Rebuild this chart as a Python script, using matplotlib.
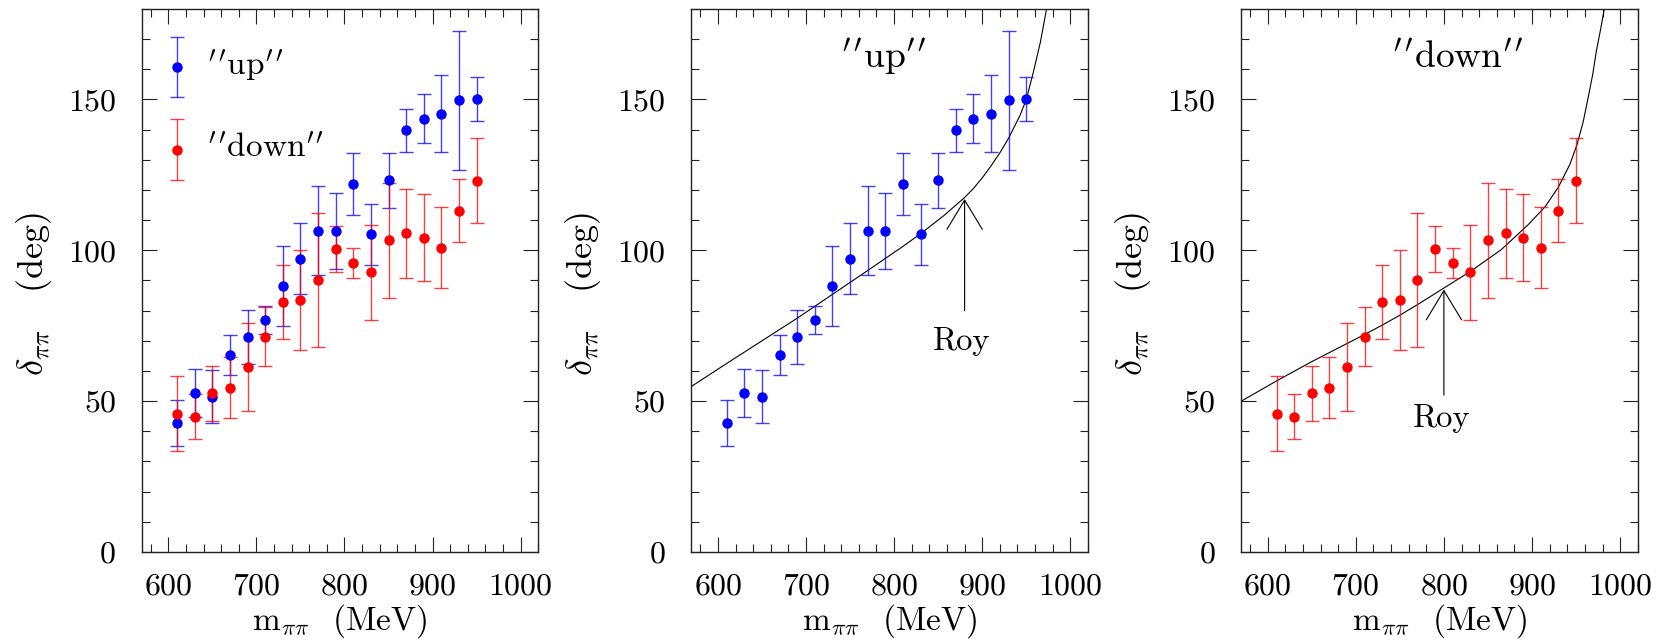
"""
pi-pi phase shift delta(m) for the "up" and "down" solutions, with Roy curves.
"""

import matplotlib
matplotlib.use("Agg")
import matplotlib.pyplot as plt
from matplotlib.container import ErrorbarContainer
from matplotlib.legend_handler import HandlerErrorbar
from matplotlib.ticker import MultipleLocator

# --- data ---------------------------------------------------------------
m_pipi = [610, 630, 650, 670, 690, 710, 730, 750, 770, 790,
          810, 830, 850, 870, 890, 910, 930, 950]

delta_up = [42.8, 52.7, 51.5, 65.3, 71.3, 77.0, 88.2, 97.2, 106.5, 106.5,
            122.0, 105.4, 123.2, 139.8, 143.6, 145.3, 149.7, 150.2]
err_up = [7.5, 7.9, 8.7, 6.6, 9.0, 4.6, 13.2, 11.8, 14.8, 12.6,
          10.4, 10.1, 9.1, 7.1, 8.1, 12.7, 23.0, 7.4]

delta_down = [45.9, 44.8, 52.6, 54.5, 61.2, 71.4, 82.9, 83.6, 90.2, 100.5,
              95.9, 92.7, 103.3, 105.6, 104.2, 100.9, 113.2, 123.1]
err_down = [12.3, 7.5, 9.2, 10.0, 14.6, 9.8, 12.3, 16.5, 22.3, 7.7,
            5.0, 15.8, 19.0, 14.8, 14.4, 13.5, 10.6, 14.0]

# Roy-equation solutions (one for each panel)
roy_up_m = [570, 610, 650, 690, 730, 770, 810, 830, 856, 880,
            890, 900, 910, 920, 930, 943, 950, 958, 966, 973]
roy_up_delta = [54.9, 62.5, 70.0, 77.5, 85.4, 93.3, 101.3, 105.5, 111.4, 117.5,
                120.5, 124.0, 128.0, 132.3, 137.2, 144.8, 150.0, 159.0, 169.0, 180.0]

roy_down_m = [570, 610, 650, 690, 710, 730, 750, 770, 800, 830,
              865, 896, 915, 930, 943, 951, 958, 964, 969, 973, 978, 982]
roy_down_delta = [50.0, 56.7, 63.1, 69.1, 72.1, 75.2, 78.5, 82.0, 87.5, 93.0,
                  100.2, 108.6, 114.5, 121.0, 128.5, 135.0, 142.5, 151.0, 158.5,
                  166.0, 173.5, 180.0]

# arrow annotations: (m, tail delta, tip delta, text delta)
roy_arrow_up = (880, 80.0, 117.0, 66.8)
roy_arrow_down = (800, 52.0, 87.0, 41.4)

QUOTE = r"$^{\prime\,\prime}$"
UP_LABEL = QUOTE + "up" + QUOTE
DOWN_LABEL = QUOTE + "down" + QUOTE

BLUE = "#0000ff"
RED = "#ff0000"
FS = 23

plt.rcParams["font.family"] = "cmr10"
plt.rcParams["mathtext.fontset"] = "cm"
plt.rcParams["axes.formatter.use_mathtext"] = True
plt.rcParams["font.size"] = FS


def draw_points(ax, y, err, color, label=None):
    return ax.errorbar(m_pipi, y, yerr=err, fmt="o", color=color, ms=6.5,
                       elinewidth=1.0, capsize=5, capthick=1.0,
                       ecolor=matplotlib.colors.to_rgba(color, 0.75),
                       label=label, zorder=3)


def style_axes(ax):
    ax.set_xlim(570, 1020)
    ax.set_ylim(0, 180)
    ax.xaxis.set_major_locator(MultipleLocator(100))
    ax.xaxis.set_minor_locator(MultipleLocator(20))
    ax.yaxis.set_major_locator(MultipleLocator(50))
    ax.yaxis.set_minor_locator(MultipleLocator(10))
    ax.tick_params(which="both", direction="in", top=True, right=True,
                   width=0.8, color="#222222")
    ax.tick_params(which="major", length=10.8)
    ax.tick_params(which="minor", length=6)
    ax.tick_params(axis="x", which="major", pad=15)
    ax.tick_params(axis="y", which="major", pad=18.5)
    for sp in ax.spines.values():
        sp.set_linewidth(1.0)
        sp.set_color("#222222")
    ax.set_xlabel(r"$\mathrm{m}_{\pi\pi}$  (MeV)", fontsize=24, labelpad=1.5)
    ax.set_ylabel(r"$\delta_{\pi\pi}$   (deg)", fontsize=26)
    ax.yaxis.set_label_coords(-0.222, 0.475)


def roy_arrow(ax, spec):
    m, tail, tip, text_y = spec
    ax.annotate("", xy=(m, tip), xytext=(m, tail),
                arrowprops=dict(arrowstyle="->,head_length=2.1,head_width=1.27",
                                mutation_scale=10, lw=0.8, color="black",
                                shrinkA=0, shrinkB=0))
    ax.text(m - 3, text_y, "Roy", ha="center", va="baseline", fontsize=23.5)


fig = plt.figure(figsize=(16.61, 6.42), dpi=100)
lefts = [0.0854, 0.4163, 0.7473]
axes = [fig.add_axes([l, 0.1402, 0.2387, 0.8458]) for l in lefts]

# panel 1: both solutions
ax = axes[0]
draw_points(ax, delta_up, err_up, BLUE, UP_LABEL)
draw_points(ax, delta_down, err_down, RED, DOWN_LABEL)
style_axes(ax)
ax.legend(loc="upper left", bbox_to_anchor=(0.0653, 0.929), frameon=False,
          fontsize=24, borderpad=0, borderaxespad=0, handlelength=0.58,
          handleheight=0.0, handletextpad=0.6, labelspacing=1.5, numpoints=1,
          handler_map={ErrorbarContainer: HandlerErrorbar(yerr_size=0.91)})

# panel 2: "up" with Roy curve
ax = axes[1]
draw_points(ax, delta_up, err_up, BLUE)
ax.plot(roy_up_m, roy_up_delta, color="black", lw=0.8, zorder=2)
roy_arrow(ax, roy_arrow_up)
ax.text(788, 160.5, UP_LABEL, ha="center", va="baseline", fontsize=27)
style_axes(ax)

# panel 3: "down" with Roy curve
ax = axes[2]
draw_points(ax, delta_down, err_down, RED)
ax.plot(roy_down_m, roy_down_delta, color="black", lw=0.8, zorder=2)
roy_arrow(ax, roy_arrow_down)
ax.text(816, 160.5, DOWN_LABEL, ha="center", va="baseline", fontsize=27)
style_axes(ax)

fig.savefig("out.png", dpi=100)
